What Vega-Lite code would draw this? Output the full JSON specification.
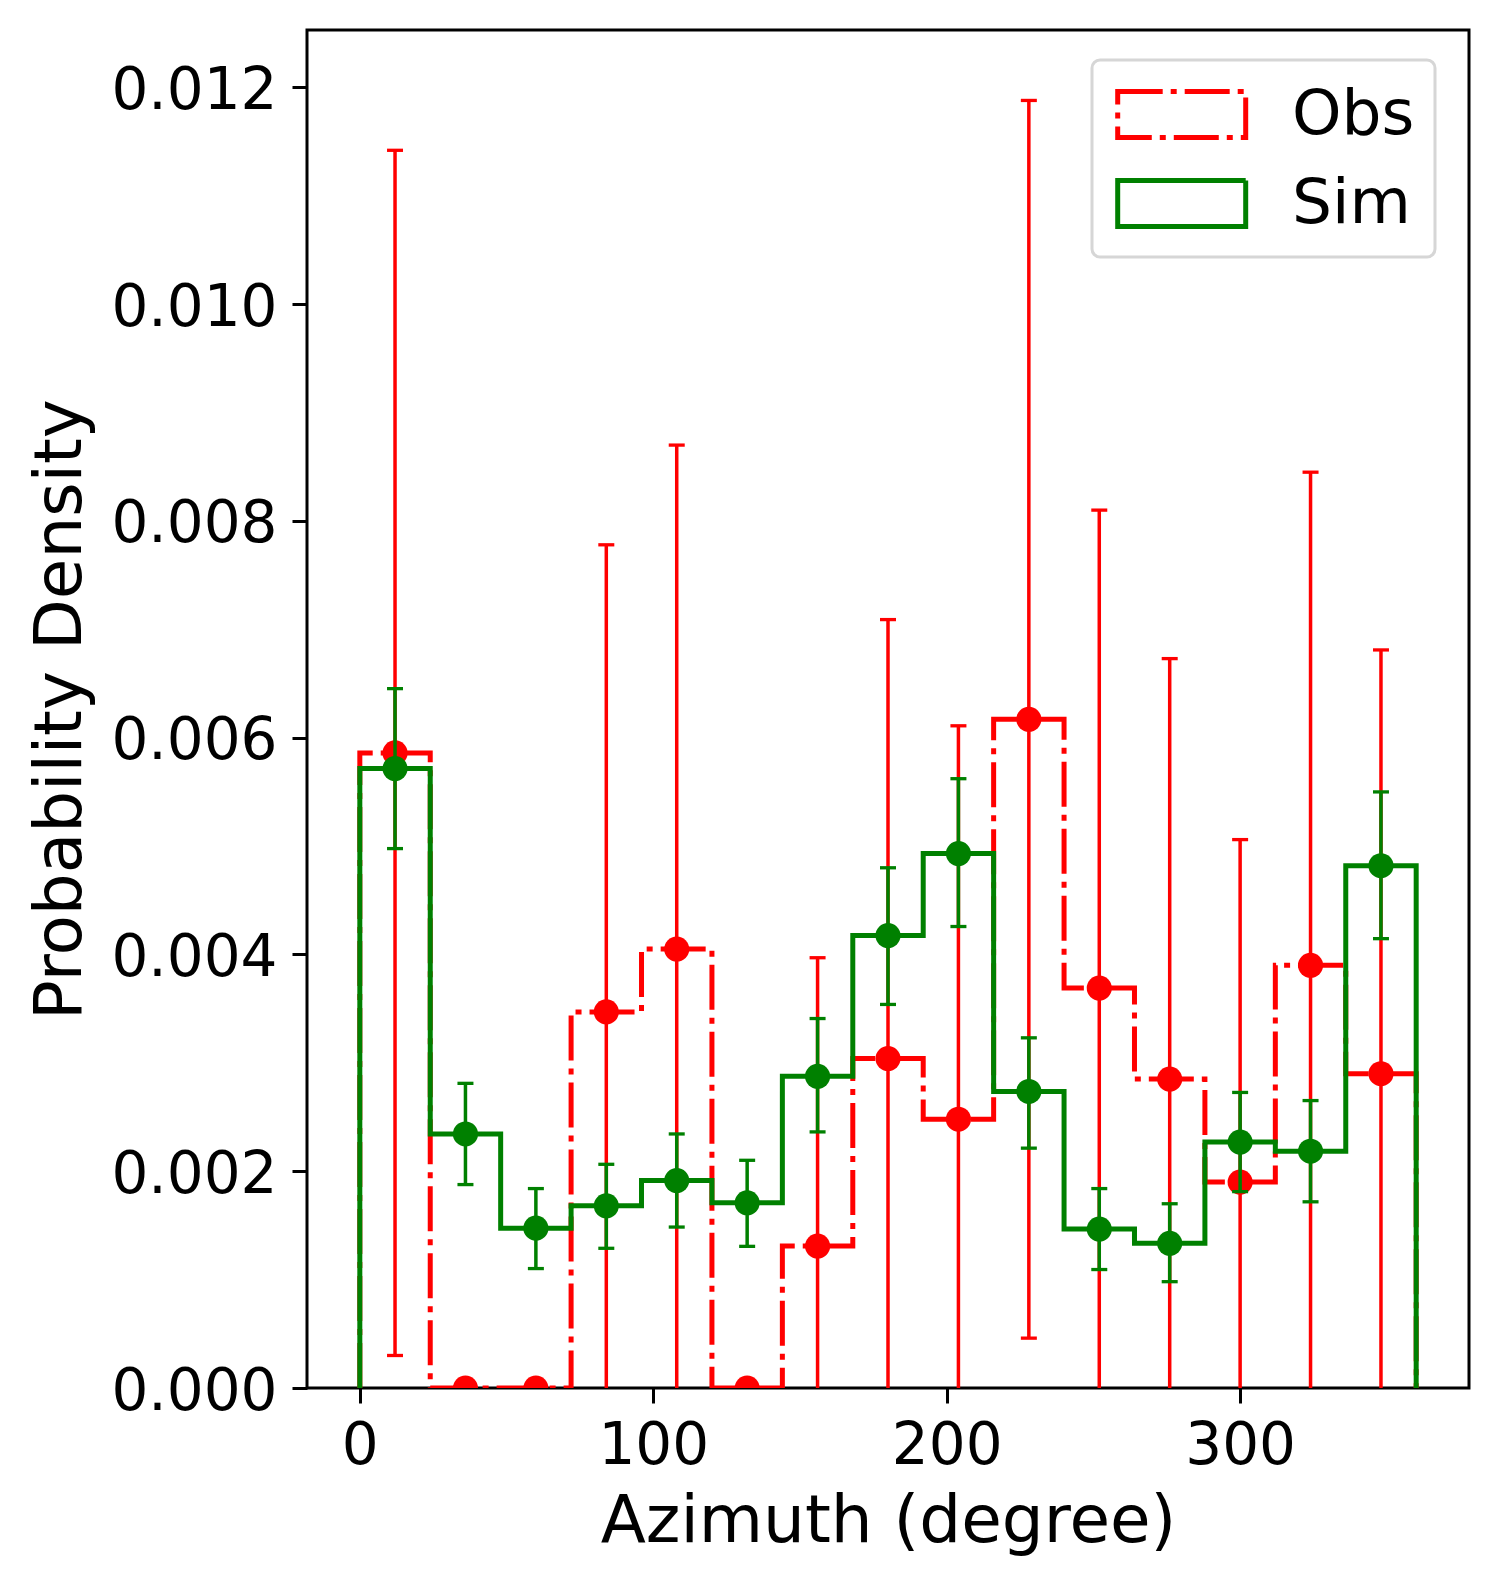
{
  "$schema": "https://vega.github.io/schema/vega-lite/v6.json",
  "width": 1162,
  "height": 1358,
  "autosize": {"type": "none"},
  "padding": {"left": 307, "top": 30, "right": 30, "bottom": 197},
  "background": "white",
  "datasets": {
    "bins": [
      {"center": 12, "obs": 0.00586, "obs_lo": 0.0003, "obs_hi": 0.01142, "sim": 0.005715, "sim_lo": 0.004977, "sim_hi": 0.006453},
      {"center": 36, "obs": 0, "obs_lo": 0, "obs_hi": 0, "sim": 0.002344, "sim_lo": 0.001877, "sim_hi": 0.002811},
      {"center": 60, "obs": 0, "obs_lo": 0, "obs_hi": 0, "sim": 0.001475, "sim_lo": 0.001102, "sim_hi": 0.00184},
      {"center": 84, "obs": 0.00347, "obs_lo": -0.00084, "obs_hi": 0.00778, "sim": 0.001681, "sim_lo": 0.001289, "sim_hi": 0.002064},
      {"center": 108, "obs": 0.00405, "obs_lo": -0.0006, "obs_hi": 0.0087, "sim": 0.001914, "sim_lo": 0.001485, "sim_hi": 0.002344},
      {"center": 132, "obs": 0, "obs_lo": 0, "obs_hi": 0, "sim": 0.001709, "sim_lo": 0.001307, "sim_hi": 0.002101},
      {"center": 156, "obs": 0.00131, "obs_lo": -0.00135, "obs_hi": 0.00397, "sim": 0.002876, "sim_lo": 0.002363, "sim_hi": 0.003409},
      {"center": 180, "obs": 0.00304, "obs_lo": -0.00101, "obs_hi": 0.00709, "sim": 0.004174, "sim_lo": 0.003539, "sim_hi": 0.0048},
      {"center": 204, "obs": 0.00248, "obs_lo": -0.00115, "obs_hi": 0.00611, "sim": 0.004931, "sim_lo": 0.004258, "sim_hi": 0.005622},
      {"center": 228, "obs": 0.00617, "obs_lo": 0.00046, "obs_hi": 0.01188, "sim": 0.002736, "sim_lo": 0.002213, "sim_hi": 0.003231},
      {"center": 252, "obs": 0.00369, "obs_lo": -0.00072, "obs_hi": 0.0081, "sim": 0.001466, "sim_lo": 0.001093, "sim_hi": 0.00184},
      {"center": 276, "obs": 0.00285, "obs_lo": -0.00103, "obs_hi": 0.00673, "sim": 0.001335, "sim_lo": 0.000981, "sim_hi": 0.0017},
      {"center": 300, "obs": 0.0019, "obs_lo": -0.00126, "obs_hi": 0.00506, "sim": 0.002269, "sim_lo": 0.001812, "sim_hi": 0.002727},
      {"center": 324, "obs": 0.0039, "obs_lo": -0.00065, "obs_hi": 0.00845, "sim": 0.002185, "sim_lo": 0.001718, "sim_hi": 0.002652},
      {"center": 348, "obs": 0.0029, "obs_lo": -0.00101, "obs_hi": 0.00681, "sim": 0.004819, "sim_lo": 0.004146, "sim_hi": 0.0055}
    ],
    "steps": [
      {"series": "Obs", "azimuth": 0, "density": 0, "ord": 0},
      {"series": "Obs", "azimuth": 0, "density": 0.00586, "ord": 1},
      {"series": "Obs", "azimuth": 24, "density": 0, "ord": 2},
      {"series": "Obs", "azimuth": 48, "density": 0, "ord": 3},
      {"series": "Obs", "azimuth": 72, "density": 0.00347, "ord": 4},
      {"series": "Obs", "azimuth": 96, "density": 0.00405, "ord": 5},
      {"series": "Obs", "azimuth": 120, "density": 0, "ord": 6},
      {"series": "Obs", "azimuth": 144, "density": 0.00131, "ord": 7},
      {"series": "Obs", "azimuth": 168, "density": 0.00304, "ord": 8},
      {"series": "Obs", "azimuth": 192, "density": 0.00248, "ord": 9},
      {"series": "Obs", "azimuth": 216, "density": 0.00617, "ord": 10},
      {"series": "Obs", "azimuth": 240, "density": 0.00369, "ord": 11},
      {"series": "Obs", "azimuth": 264, "density": 0.00285, "ord": 12},
      {"series": "Obs", "azimuth": 288, "density": 0.0019, "ord": 13},
      {"series": "Obs", "azimuth": 312, "density": 0.0039, "ord": 14},
      {"series": "Obs", "azimuth": 336, "density": 0.0029, "ord": 15},
      {"series": "Obs", "azimuth": 360, "density": 0.0029, "ord": 16},
      {"series": "Obs", "azimuth": 360, "density": 0, "ord": 17},
      {"series": "Sim", "azimuth": 0, "density": 0, "ord": 0},
      {"series": "Sim", "azimuth": 0, "density": 0.005715, "ord": 1},
      {"series": "Sim", "azimuth": 24, "density": 0.002344, "ord": 2},
      {"series": "Sim", "azimuth": 48, "density": 0.001475, "ord": 3},
      {"series": "Sim", "azimuth": 72, "density": 0.001681, "ord": 4},
      {"series": "Sim", "azimuth": 96, "density": 0.001914, "ord": 5},
      {"series": "Sim", "azimuth": 120, "density": 0.001709, "ord": 6},
      {"series": "Sim", "azimuth": 144, "density": 0.002876, "ord": 7},
      {"series": "Sim", "azimuth": 168, "density": 0.004174, "ord": 8},
      {"series": "Sim", "azimuth": 192, "density": 0.004931, "ord": 9},
      {"series": "Sim", "azimuth": 216, "density": 0.002736, "ord": 10},
      {"series": "Sim", "azimuth": 240, "density": 0.001466, "ord": 11},
      {"series": "Sim", "azimuth": 264, "density": 0.001335, "ord": 12},
      {"series": "Sim", "azimuth": 288, "density": 0.002269, "ord": 13},
      {"series": "Sim", "azimuth": 312, "density": 0.002185, "ord": 14},
      {"series": "Sim", "azimuth": 336, "density": 0.004819, "ord": 15},
      {"series": "Sim", "azimuth": 360, "density": 0.004819, "ord": 16},
      {"series": "Sim", "azimuth": 360, "density": 0, "ord": 17}
    ]
  },
  "config": {
    "font": "DejaVu Sans",
    "view": {"stroke": "black", "strokeWidth": 3},
    "axis": {
      "grid": false,
      "domain": false,
      "tickColor": "black",
      "tickWidth": 3,
      "tickSize": 15,
      "labelFont": "DejaVu Sans",
      "labelFontSize": 58,
      "labelColor": "black",
      "labelFlush": false,
      "labelOverlap": false,
      "titleFont": "DejaVu Sans",
      "titleFontSize": 66,
      "titleFontWeight": "normal",
      "titleColor": "black",
      "zindex": 1
    },
    "legend": {
      "orient": "none",
      "legendX": 785,
      "legendY": 30,
      "fillColor": "white",
      "strokeColor": "#d6d6d6",
      "strokeWidth": 3,
      "cornerRadius": 8,
      "padding": 20,
      "symbolType": "M-0.9,-0.72H3.1V0.72H-0.9Z",
      "symbolSize": 4096,
      "symbolStrokeWidth": 5,
      "symbolFillColor": "transparent",
      "labelFont": "DejaVu Sans",
      "labelFontSize": 63,
      "labelColor": "black",
      "labelOffset": 111,
      "rowPadding": 21
    }
  },
  "encoding": {
    "x": {
      "type": "quantitative",
      "scale": {"domain": [-18, 378], "nice": false, "zero": false},
      "axis": {
        "values": [0, 100, 200, 300],
        "title": "Azimuth (degree)",
        "labelBaseline": "alphabetic",
        "labelAlign": "center",
        "labelPadding": 60,
        "titleX": 581,
        "titleY": 153,
        "titleBaseline": "alphabetic",
        "titleAlign": "center"
      }
    },
    "y": {
      "type": "quantitative",
      "scale": {"domain": [0, 0.01253], "nice": false, "zero": false},
      "axis": {
        "values": [0, 0.002, 0.004, 0.006, 0.008, 0.01, 0.012],
        "format": ".3f",
        "title": "Probability Density",
        "labelBaseline": "alphabetic",
        "labelAlign": "right",
        "labelPadding": 15,
        "labelOffset": 21,
        "titleAngle": 270,
        "titleX": -227,
        "titleY": 679,
        "titleBaseline": "alphabetic",
        "titleAlign": "center"
      }
    }
  },
  "layer": [
    {
      "data": {"name": "steps"},
      "mark": {"type": "line", "interpolate": "step-after", "strokeWidth": 5, "clip": true, "strokeCap": "butt"},
      "encoding": {
        "x": {"field": "azimuth", "type": "quantitative"},
        "y": {"field": "density", "type": "quantitative"},
        "order": {"field": "ord", "type": "quantitative"},
        "color": {
          "field": "series", "type": "nominal",
          "scale": {"domain": ["Obs", "Sim"], "range": ["#ff0000", "#008000"]},
          "legend": {"title": null}
        },
        "strokeDash": {
          "field": "series", "type": "nominal",
          "scale": {"domain": ["Obs", "Sim"], "range": [[45, 8, 6, 8], [1, 0]]},
          "legend": {"title": null}
        }
      }
    },
    {
      "data": {"name": "bins"},
      "mark": {"type": "rule", "color": "#ff0000", "strokeWidth": 3.5, "clip": true},
      "encoding": {
        "x": {"field": "center", "type": "quantitative"},
        "y": {"field": "obs_lo", "type": "quantitative"},
        "y2": {"field": "obs_hi"}
      }
    },
    {
      "data": {"name": "bins"},
      "mark": {"type": "tick", "orient": "horizontal", "color": "#ff0000", "size": 16, "thickness": 3.3, "clip": true, "opacity": 1},
      "encoding": {
        "x": {"field": "center", "type": "quantitative"},
        "y": {"field": "obs_hi", "type": "quantitative"}
      }
    },
    {
      "data": {"name": "bins"},
      "mark": {"type": "tick", "orient": "horizontal", "color": "#ff0000", "size": 16, "thickness": 3.3, "clip": true, "opacity": 1},
      "encoding": {
        "x": {"field": "center", "type": "quantitative"},
        "y": {"field": "obs_lo", "type": "quantitative"}
      }
    },
    {
      "data": {"name": "bins"},
      "mark": {"type": "point", "shape": "circle", "filled": true, "color": "#ff0000", "size": 630, "opacity": 1, "clip": true},
      "encoding": {
        "x": {"field": "center", "type": "quantitative"},
        "y": {"field": "obs", "type": "quantitative"}
      }
    },
    {
      "data": {"name": "bins"},
      "mark": {"type": "rule", "color": "#008000", "strokeWidth": 3.5, "clip": true},
      "encoding": {
        "x": {"field": "center", "type": "quantitative"},
        "y": {"field": "sim_lo", "type": "quantitative"},
        "y2": {"field": "sim_hi"}
      }
    },
    {
      "data": {"name": "bins"},
      "mark": {"type": "tick", "orient": "horizontal", "color": "#008000", "size": 16, "thickness": 3.3, "clip": true, "opacity": 1},
      "encoding": {
        "x": {"field": "center", "type": "quantitative"},
        "y": {"field": "sim_hi", "type": "quantitative"}
      }
    },
    {
      "data": {"name": "bins"},
      "mark": {"type": "tick", "orient": "horizontal", "color": "#008000", "size": 16, "thickness": 3.3, "clip": true, "opacity": 1},
      "encoding": {
        "x": {"field": "center", "type": "quantitative"},
        "y": {"field": "sim_lo", "type": "quantitative"}
      }
    },
    {
      "data": {"name": "bins"},
      "mark": {"type": "point", "shape": "circle", "filled": true, "color": "#008000", "size": 630, "opacity": 1, "clip": true},
      "encoding": {
        "x": {"field": "center", "type": "quantitative"},
        "y": {"field": "sim", "type": "quantitative"}
      }
    }
  ]
}
